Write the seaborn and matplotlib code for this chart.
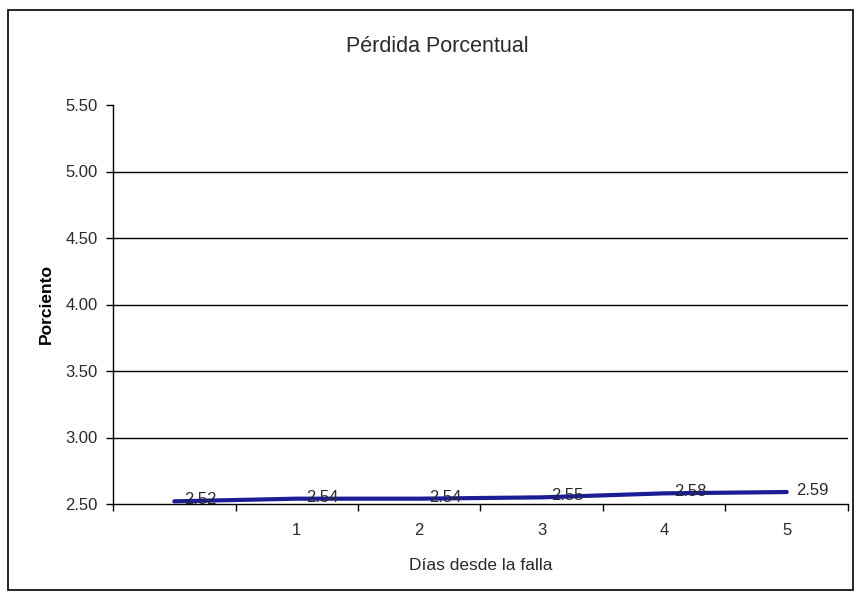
import matplotlib
matplotlib.use("Agg")
import matplotlib.pyplot as plt
import seaborn as sns
import pandas as pd
from matplotlib.patches import Rectangle
from matplotlib.ticker import FixedLocator, FormatStrFormatter

sns.set_style("white")
plt.rcParams['font.family'] = ['Liberation Sans', 'DejaVu Sans']

categories = ["", "1", "2", "3", "4", "5"]
values = [2.52, 2.54, 2.54, 2.55, 2.58, 2.59]
y_ticks = [2.50, 3.00, 3.50, 4.00, 4.50, 5.00, 5.50]

df = pd.DataFrame({"pos": list(range(len(categories))), "valor": values})

fig = plt.figure(figsize=(8.6, 5.96), dpi=100)
ax = fig.add_axes([113/860, 1-504/596, (848-113)/860, (504-105)/596])

sns.lineplot(data=df, x="pos", y="valor", ax=ax, color="#1c1c96", linewidth=3.0)

for x, v in zip(df["pos"], values):
    ax.annotate(f"{v:.2f}", (x, v), xytext=(7, 1), textcoords="offset points",
                ha="left", va="center", fontsize=12, color="#2a2a2a")

n = len(categories)
ax.set_xlim(-0.5, n - 0.5)
ax.set_ylim(2.5, 5.5)
ax.set_yticks(y_ticks)
ax.yaxis.set_major_formatter(FormatStrFormatter("%.2f"))
for y in y_ticks[1:-1]:
    ax.axhline(y, color="black", linewidth=1.0, zorder=0)

ax.xaxis.set_major_locator(FixedLocator([i - 0.5 for i in range(n + 1)]))
ax.xaxis.set_major_formatter(plt.NullFormatter())
ax.xaxis.set_minor_locator(FixedLocator(list(range(n))))
ax.set_xticklabels(categories, minor=True)
ax.tick_params(axis="x", which="major", direction="out", length=5, width=1, color="black", bottom=True)
ax.tick_params(axis="x", which="minor", length=0, pad=14, labelsize=12, labelcolor="#2a2a2a")
ax.tick_params(axis="y", direction="out", length=5, width=1, color="black", left=True,
               labelsize=12, labelcolor="#2a2a2a", pad=6)

for s in ["top", "right"]:
    ax.spines[s].set_visible(False)
for s in ["left", "bottom"]:
    ax.spines[s].set_color("black")
    ax.spines[s].set_linewidth(1.0)

ax.set_xlabel("Días desde la falla", fontsize=12.5, color="#2a2a2a", labelpad=14)
ax.set_ylabel("Porciento", fontsize=12.5, fontweight="bold", color="black", labelpad=8)
fig.text(437/860, 1-47/596, "Pérdida Porcentual", ha="center", va="center", fontsize=15.5, color="#2a2a2a")

fig.patches.append(Rectangle((8/860, 1-590/596), (853-8)/860, (590-10)/596, transform=fig.transFigure,
                             fill=False, edgecolor="black", linewidth=1.2))

fig.savefig("out.png", dpi=100)
